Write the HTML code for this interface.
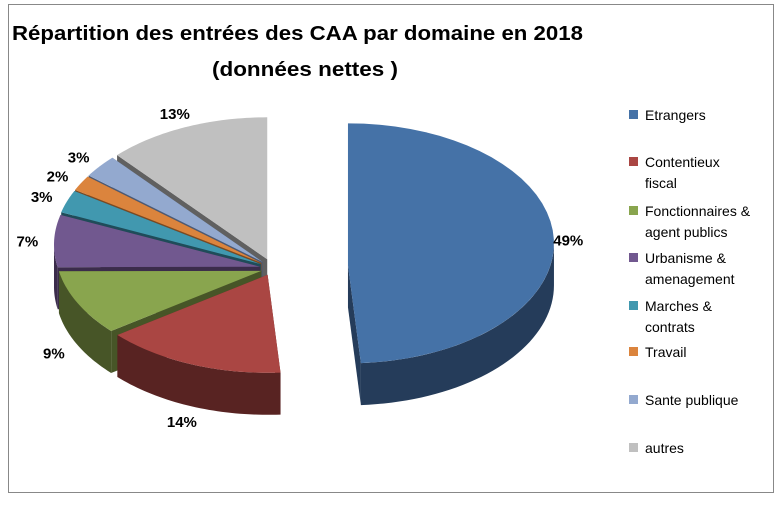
<!DOCTYPE html>
<html><head><meta charset="utf-8"><style>
body{margin:0;background:#fff;font-family:"Liberation Sans",sans-serif}
#wrap{position:relative;width:782px;height:501px}
</style></head><body>
<div id="wrap">
<svg id="svg" width="782" height="501">
<rect x="8.5" y="4.5" width="765" height="488" fill="#fff" stroke="#888"/>
<text x="12" y="40" textLength="571" lengthAdjust="spacingAndGlyphs" font-size="20" font-weight="bold">Répartition des entrées des CAA par domaine en 2018</text>
<text x="212" y="76" textLength="186" lengthAdjust="spacingAndGlyphs" font-size="20" font-weight="bold">(données nettes )</text>
<g id="pie"></g>
<g id="legend"></g>
</svg>
</div>
<script>
const categories=["Etrangers","Contentieux fiscal","Fonctionnaires & agent publics","Urbanisme & amenagement","Marches & contrats","Travail","Sante publique","autres"];
const values=[49,14,9,7,3,2,3,13];
const labels=["49%","14%","9%","7%","3%","2%","3%","13%"];
const legendLines=[["Etrangers"],["Contentieux","fiscal"],["Fonctionnaires &","agent publics"],["Urbanisme &","amenagement"],["Marches &","contrats"],["Travail"],["Sante publique"],["autres"]];
const topColors=["#4572A7","#AA4643","#89A54E","#71588F","#4198AF","#DB843D","#93A9CF","#C0C0C0"];
const sideColors=["#253C5A","#582322","#475527","#3B2C4B","#1F4C59","#7B4A22","#4C5A75","#606060"];
const NS="http://www.w3.org/2000/svg";
const cx=272,cy=245,rx=206,ry=120,depth=42,apexDy=22;
const total=values.reduce((a,b)=>a+b,0);
function ang(v){return -Math.PI/2+2*Math.PI*v/total;}
function pt(ox,oy,a,dy){return [ox+rx*Math.cos(a),oy+ry*Math.sin(a)+(dy||0)];}
function mk(tag,attrs){const e=document.createElementNS(NS,tag);for(const k in attrs)e.setAttribute(k,attrs[k]);return e;}
const pie=document.getElementById('pie');
let acc=0;const slices=[];
values.forEach((v,i)=>{const a0=ang(acc),a1=ang(acc+v);acc+=v;const m=(a0+a1)/2;const ex=i===0?76:12;
slices.push({i,a0,a1,m,ox:cx+ex*Math.cos(m),oy:cy+ex*0.7*Math.sin(m)});});
const order=[...slices].sort((a,b)=>Math.sin(a.m)-Math.sin(b.m));
function arcPts(s,a0,a1,dy){const n=40,p=[];for(let k=0;k<=n;k++){p.push(pt(s.ox,s.oy,a0+(a1-a0)*k/n,dy));}return p;}
order.forEach(s=>{
  const g=mk('g',{});
  
  
  const sc=sideColors[s.i];
  const ax=s.ox, ay=s.oy+apexDy;
  [s.a0,s.a1].forEach(a=>{const p=pt(s.ox,s.oy,a);
    const w=mk('polygon',{points:`${ax},${ay} ${p[0]},${p[1]} ${p[0]},${p[1]+depth} ${ax},${ay+depth}`,fill:sc});
    g.appendChild(w);});
  const b0=Math.max(s.a0,0),b1=Math.min(s.a1,Math.PI);
  const c0=Math.max(s.a0,2*Math.PI),c1=Math.min(s.a1,3*Math.PI);
  [[b0,b1],[c0,c1]].forEach(([x0,x1])=>{if(x1>x0){const t=arcPts(s,x0,x1,0),b=arcPts(s,x0,x1,depth).reverse();
    const w=mk('polygon',{points:t.concat(b).map(q=>q.join(',')).join(' '),fill:sc});
    g.appendChild(w);}});
  const t=arcPts(s,s.a0,s.a1,0);
  const top=mk('polygon',{points:[[ax,ay]].concat(t).map(q=>q.join(',')).join(' '),fill:topColors[s.i]});
  g.appendChild(top);
  pie.appendChild(g);
});
slices.forEach(s=>{const f=s.i===0?1.07:1.13;
  const x=s.ox+rx*f*Math.cos(s.m),y=s.oy+ry*f*Math.sin(s.m)+(Math.sin(s.m)>0?depth:0)+6;
  const t=mk('text',{x:x,y:y,'text-anchor':'middle','font-size':15,'font-weight':'bold'});t.textContent=labels[s.i];
  pie.appendChild(t);});
const lg=document.getElementById('legend');
const ly=[115,162,211,258,306,352,400,448];
legendLines.forEach((lines,i)=>{
  const r=mk('rect',{x:629,y:ly[i]-5,width:9,height:9,fill:topColors[i]});
  lg.appendChild(r);
  lines.forEach((l,j)=>{const t=mk('text',{x:645,y:ly[i]+5+j*21,'font-size':14});t.textContent=l;
    lg.appendChild(t);});
});
</script>
</body></html>
